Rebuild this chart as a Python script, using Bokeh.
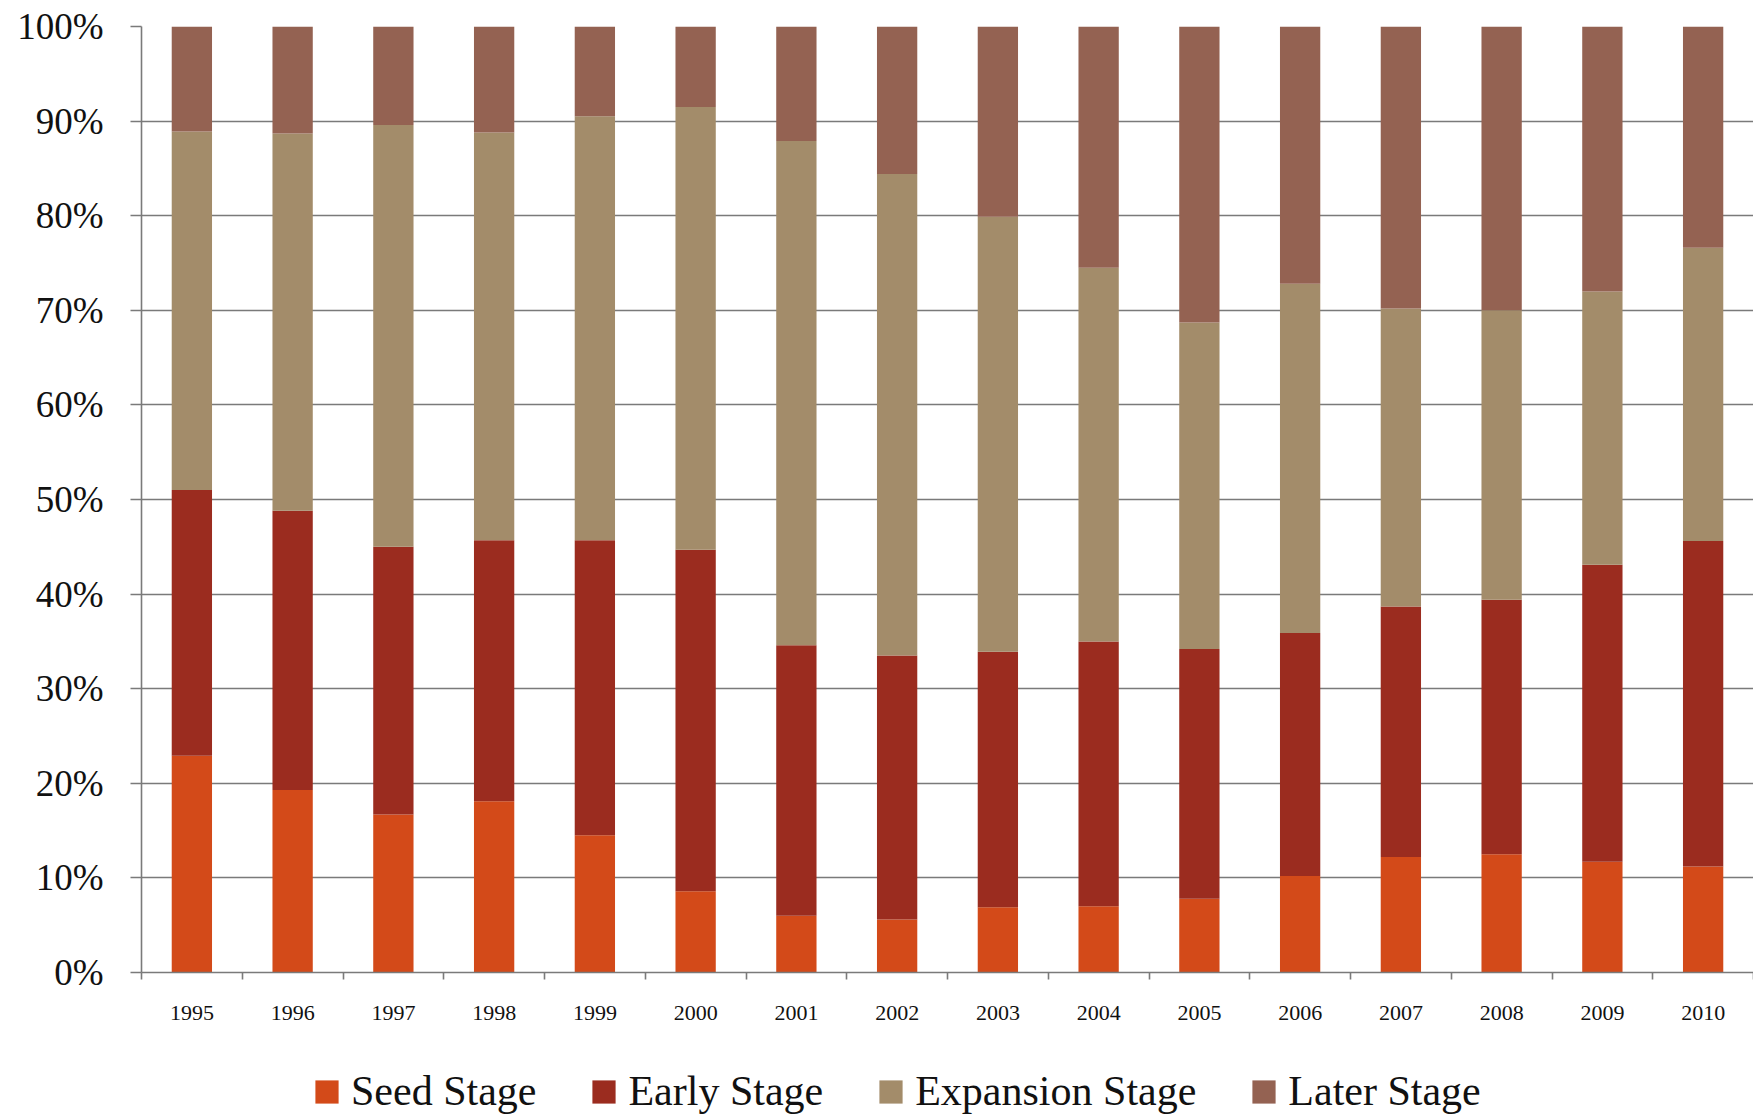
import numpy as np
from bokeh.plotting import figure
from bokeh.layouts import column
from bokeh.models import (ColumnDataSource, FixedTicker, PrintfTickFormatter, Legend, LegendItem,
                          Range1d, CustomJSTickFormatter)
from bokeh.embed import file_html
from bokeh.resources import INLINE

years = ["1995", "1996", "1997", "1998", "1999", "2000", "2001", "2002",
         "2003", "2004", "2005", "2006", "2007", "2008", "2009", "2010"]
seed_stage = [22.9, 19.3, 16.7, 18.1, 14.5, 8.6, 6.0, 5.6, 6.9, 7.0, 7.8, 10.2, 12.2, 12.5, 11.7, 11.2]
early_stage = [28.1, 29.5, 28.3, 27.6, 31.2, 36.1, 28.6, 27.9, 27.0, 28.0, 26.4, 25.7, 26.5, 26.9, 31.4, 34.4]
expansion_stage = [37.9, 39.9, 44.6, 43.1, 44.8, 46.8, 53.3, 50.9, 46.0, 39.5, 34.5, 36.9, 31.5, 30.6, 28.9, 31.0]
later_stage = [11.1, 11.3, 10.4, 11.2, 9.5, 8.5, 12.1, 15.6, 20.1, 25.5, 31.3, 27.2, 29.8, 30.0, 28.0, 23.4]
series_names = ["Seed Stage", "Early Stage", "Expansion Stage", "Later Stage"]
y_ticks = [0, 10, 20, 30, 40, 50, 60, 70, 80, 90, 100]

colors = ["#D34A19", "#9B2C1F", "#A38C6A", "#946252"]
FONT = "Liberation Serif"
GRID = "#7a7a7a"

n = len(years)
src = ColumnDataSource(dict(
    x=np.arange(n) + 0.5,
    seed=seed_stage, early=early_stage, expansion=expansion_stage, later=later_stage,
))
stack_cols = ["seed", "early", "expansion", "later"]

main = figure(width=1753, height=1050, output_backend="svg", toolbar_location=None,
              x_range=Range1d(0, n), y_range=Range1d(0, 100),
              min_border_left=141, min_border_right=0, min_border_top=26, min_border_bottom=78)
main.outline_line_color = None
main.background_fill_color = "white"
main.border_fill_color = "white"

main.vbar_stack(stack_cols, x="x", width=0.4, source=src, color=colors, line_color=None)

# y axis
main.yaxis.ticker = FixedTicker(ticks=y_ticks)
main.yaxis.formatter = PrintfTickFormatter(format="%d%%")
main.yaxis.major_label_text_font = FONT
main.yaxis.major_label_text_font_size = "37px"
main.yaxis.major_label_text_color = "#111111"
main.yaxis.major_tick_out = 11
main.yaxis.major_tick_in = 0
main.yaxis.minor_tick_line_color = None
main.yaxis.major_label_standoff = 27
main.yaxis.axis_line_color = GRID
main.yaxis.axis_line_width = 1.6
main.yaxis.major_tick_line_color = GRID
main.yaxis.major_tick_line_width = 1.6

main.ygrid.ticker = FixedTicker(ticks=y_ticks)
main.ygrid.grid_line_color = GRID
main.ygrid.grid_line_width = 1.6
main.xgrid.grid_line_color = None

# x axis: labels at bar centres, ticks at category boundaries
main.xaxis.ticker = FixedTicker(ticks=list(np.arange(n) + 0.5), minor_ticks=list(range(n + 1)))
main.xaxis.formatter = CustomJSTickFormatter(args=dict(years=years),
                                             code="const i = Math.floor(tick); return years[i] || '';")
main.xaxis.major_label_text_font = FONT
main.xaxis.major_label_text_font_size = "22px"
main.xaxis.major_label_text_color = "#111111"
main.xaxis.major_tick_out = 0
main.xaxis.major_tick_in = 0
main.xaxis.minor_tick_out = 7
main.xaxis.minor_tick_in = 0
main.xaxis.minor_tick_line_color = GRID
main.xaxis.minor_tick_line_width = 1.6
main.xaxis.major_label_standoff = 26
main.xaxis.axis_line_color = GRID
main.xaxis.axis_line_width = 1.6

# legend strip below the chart (same stacked renderers, kept far out of view)
leg_fig = figure(width=1753, height=67, output_backend="svg", toolbar_location=None,
                 x_range=Range1d(-30, -29), y_range=Range1d(-2, -1),
                 min_border_left=0, min_border_right=0, min_border_top=0, min_border_bottom=0)
leg_fig.axis.visible = False
leg_fig.grid.visible = False
leg_fig.outline_line_color = None
leg_rs = leg_fig.vbar_stack(stack_cols, x="x", width=0.4, source=src, color=colors, line_color=None)
items = [LegendItem(label=name, renderers=[r]) for name, r in zip(series_names, leg_rs)]
legend = Legend(items=items, orientation="horizontal", location=(171, 2),
                glyph_width=29, glyph_height=29, label_standoff=10, spacing=53,
                padding=0, margin=0, border_line_color=None, background_fill_alpha=0,
                label_text_font=FONT, label_text_font_size="42px", label_text_color="#111111")
leg_fig.add_layout(legend, "center")

p = column(main, leg_fig, spacing=0)
open("out.html", "w").write(file_html(p, INLINE))
